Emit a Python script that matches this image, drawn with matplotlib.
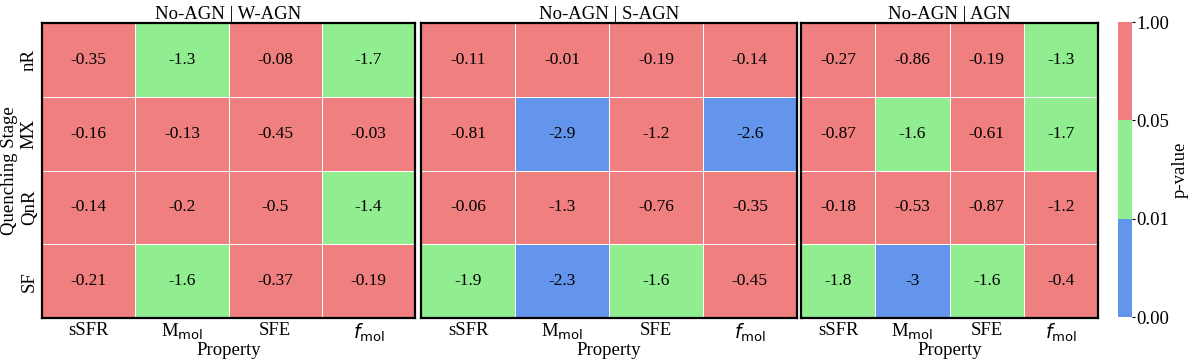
import numpy as np
import matplotlib
matplotlib.use("Agg")
import matplotlib.pyplot as plt
from matplotlib.colors import ListedColormap, BoundaryNorm
import matplotlib.cm as cm

plt.rcParams["font.family"] = ["Liberation Serif", "DejaVu Serif"]
plt.rcParams["mathtext.fontset"] = "dejavusans"

# ── DATA: log10(p-value) per quenching stage (rows) and property (cols) ──
stages = ["nR", "MX", "QnR", "SF"]
properties = ["sSFR", r"M$_\mathrm{mol}$", "SFE", r"$f_\mathrm{mol}$"]
titles = ["No-AGN | W-AGN", "No-AGN | S-AGN", "No-AGN | AGN"]

logp_wagn = [[-0.35, -1.31, -0.08, -1.7],
             [-0.16, -0.13, -0.45, -0.03],
             [-0.14, -0.2, -0.5, -1.4],
             [-0.21, -1.6, -0.37, -0.19]]
logp_sagn = [[-0.11, -0.01, -0.19, -0.14],
             [-0.81, -2.9, -1.2, -2.6],
             [-0.06, -1.29, -0.76, -0.35],
             [-1.9, -2.3, -1.6, -0.45]]
logp_agn = [[-0.27, -0.86, -0.19, -1.31],
            [-0.87, -1.6, -0.61, -1.7],
            [-0.18, -0.53, -0.87, -1.2],
            [-1.8, -3.0, -1.6, -0.4]]

bounds = [0.0, 0.01, 0.05, 1.0]
colors = ["cornflowerblue", "lightgreen", "lightcoral"]

cmap = ListedColormap(colors)
norm = BoundaryNorm(bounds, cmap.N)

fig = plt.figure(figsize=(12, 3.62), dpi=100)
positions = [[0.035, 0.1215, 0.311, 0.815],
             [0.351, 0.1215, 0.313, 0.815],
             [0.6675, 0.1215, 0.2475, 0.815]]

for k, (pos, title, logp) in enumerate(zip(positions, titles, [logp_wagn, logp_sagn, logp_agn])):
    ax = fig.add_axes(pos)
    logp = np.array(logp)
    pval = 10 ** logp
    ax.pcolormesh(pval, cmap=cmap, norm=norm, edgecolors="white", linewidth=0.5)
    ax.set_xlim(0, 4)
    ax.set_ylim(4, 0)
    for i in range(4):
        for j in range(4):
            ax.text(j + 0.5, i + 0.5, format(logp[i, j], ".2g"),
                    ha="center", va="center", fontsize=12.5)
    ax.set_xticks(np.arange(4) + 0.5)
    ax.set_xticklabels(properties, fontsize=13.5)
    ax.set_yticks(np.arange(4) + 0.5)
    ax.tick_params(length=0, pad=3)
    if k == 0:
        ax.set_yticklabels(stages, rotation=90, va="center", fontsize=13.5)
        ax.set_ylabel("Quenching Stage", fontsize=13.5)
        ax.yaxis.set_label_coords(-0.064, 0.5)
    else:
        ax.set_yticklabels([])
    ax.set_xlabel("Property", fontsize=13.5, labelpad=-2)
    ax.set_title(title, fontsize=13.5, pad=3)
    for s in ax.spines.values():
        s.set_linewidth(1.6)
        s.set_color("black")

cax = fig.add_axes([0.9317, 0.124, 0.0117, 0.815])
sm = cm.ScalarMappable(norm=norm, cmap=cmap)
cb = fig.colorbar(sm, cax=cax, ticks=bounds, spacing="uniform")
cb.ax.set_yticklabels(["0.00", "0.01", "0.05", "1.00"], fontsize=13.5)
cb.ax.tick_params(length=2, pad=1)
cb.outline.set_visible(False)
cb.set_label("p-value", fontsize=13.5, labelpad=2)

fig.savefig("out.png", dpi=100)
